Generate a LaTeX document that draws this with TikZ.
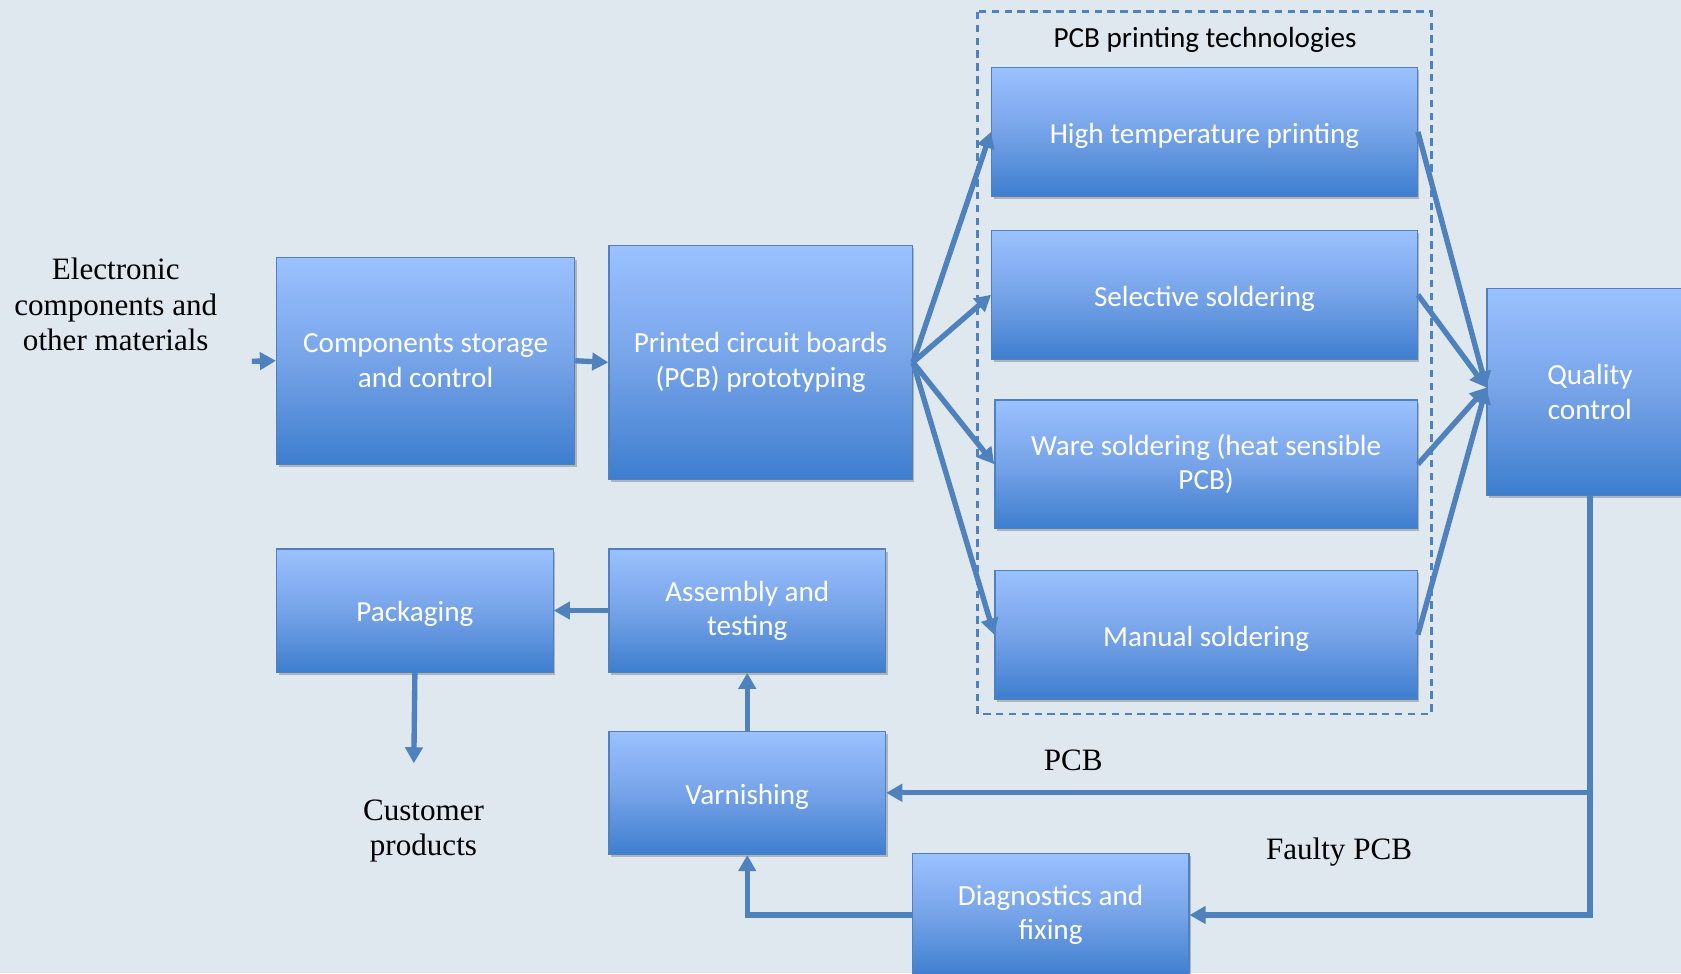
\documentclass[tikz,border=0pt]{standalone}
\usepackage{fontspec}
\setmainfont{Liberation Serif}
\newfontfamily\boxfont{Carlito}
\usetikzlibrary{arrows.meta,shadows,calc}
\definecolor{bgc}{RGB}{223,231,239}
\definecolor{linec}{RGB}{79,129,189}
\definecolor{btop}{RGB}{155,193,255}
\definecolor{bmid}{RGB}{118,163,232}
\definecolor{bbot}{RGB}{62,126,206}
\begin{document}
\begin{tikzpicture}[x=0.5pt,y=-0.5pt,
  box/.style={draw=linec, line width=0.6pt, top color=btop, bottom color=bbot, middle color=bmid,
    text=white, font=\boxfont\fontsize{13.6pt}{16pt}\selectfont, align=center, inner sep=0pt,
    execute at begin node={\rule{0pt}{13pt}},
    drop shadow={shadow xshift=1pt,shadow yshift=-1.3pt,opacity=0.22,fill=black}},
  arr/.style={draw=linec, line width=2.5pt, -{Triangle[length=7.5pt,width=8pt]}},
  lbl/.style={font=\fontsize{14.5pt}{16.5pt}\selectfont, align=center, text=black, inner sep=0pt}]
\clip (0,0) rectangle (1568,908);
\fill[bgc] (0,0) rectangle (1568,908);

% dashed group
\draw[linec, line width=1.2pt, dash pattern=on 3.5pt off 2.5pt] (912,11) rectangle (1335,666);
\node[font=\boxfont\fontsize{13.6pt}{16pt}\selectfont, inner sep=0pt] (grp) at (1124,37) {PCB printing technologies};

% boxes
\node[box, minimum width=139pt, minimum height=96.5pt] (cs) at (397,336.5) {Components storage\\and control};
\node[box, minimum width=141.5pt, minimum height=109pt] (pcb) at (709.5,338) {Printed circuit boards\\(PCB) prototyping};
\node[box, minimum width=198.5pt, minimum height=60pt] (ht) at (1123.5,123) {High temperature printing};
\node[box, minimum width=198.5pt, minimum height=60pt] (ss) at (1123.5,275) {Selective soldering};
\node[box, minimum width=197pt, minimum height=60pt] (ws) at (1125,433) {Ware soldering (heat sensible\\PCB)};
\node[box, minimum width=197pt, minimum height=60pt] (ms) at (1125,592) {Manual soldering};
\node[box, minimum width=96pt, minimum height=96.5pt] (qc) at (1483,365.5) {Quality\\control};
\node[box, minimum width=129pt, minimum height=57.5pt] (pack) at (387,569.5) {Packaging};
\node[box, minimum width=129pt, minimum height=57.5pt] (asm) at (697,569.5) {Assembly and\\testing};
\node[box, minimum width=129pt, minimum height=57.5pt] (varn) at (697,739.5) {Varnishing};
\node[box, minimum width=129pt, minimum height=57.5pt] (diag) at (980,853.5) {Diagnostics and\\fixing};

% labels
\node[lbl] (src) at (108,284) {Electronic\\components and\\other materials};
\node[lbl] (cust) at (395,775) {Customer\\products};
\node[lbl] (pcbl) at (1001,709) {PCB};
\node[lbl] (faulty) at (1249,795) {Faulty PCB};

% connectors
\coordinate (inp) at (235,337);
\coordinate (outp) at (386,712);
\coordinate (qin) at ($(qc.west)+(0,-4)$);
\draw[arr] (inp) -- (cs.west);
\draw[arr] (cs.east) -- (pcb.west);
\draw[arr] (pcb.east) -- (ht.west);
\draw[arr] (pcb.east) -- (ss.west);
\draw[arr] (pcb.east) -- (ws.west);
\draw[arr] (pcb.east) -- (ms.west);
\draw[arr] (ht.east) -- (qin);
\draw[arr] (ss.east) -- (qin);
\draw[arr] (ws.east) -- (qin);
\draw[arr] (ms.east) -- (qin);
\coordinate (br) at (qc.south |- varn.east);
\draw[arr] (qc.south) |- (diag.east);
\draw[arr] (br) -- (varn.east);
\draw[arr] (diag.west) -| (varn.south);
\draw[arr] (varn.north) -- (asm.south);
\draw[arr] (asm.west) -- (pack.east);
\draw[arr] (pack.south) -- (outp);
\end{tikzpicture}
\end{document}
